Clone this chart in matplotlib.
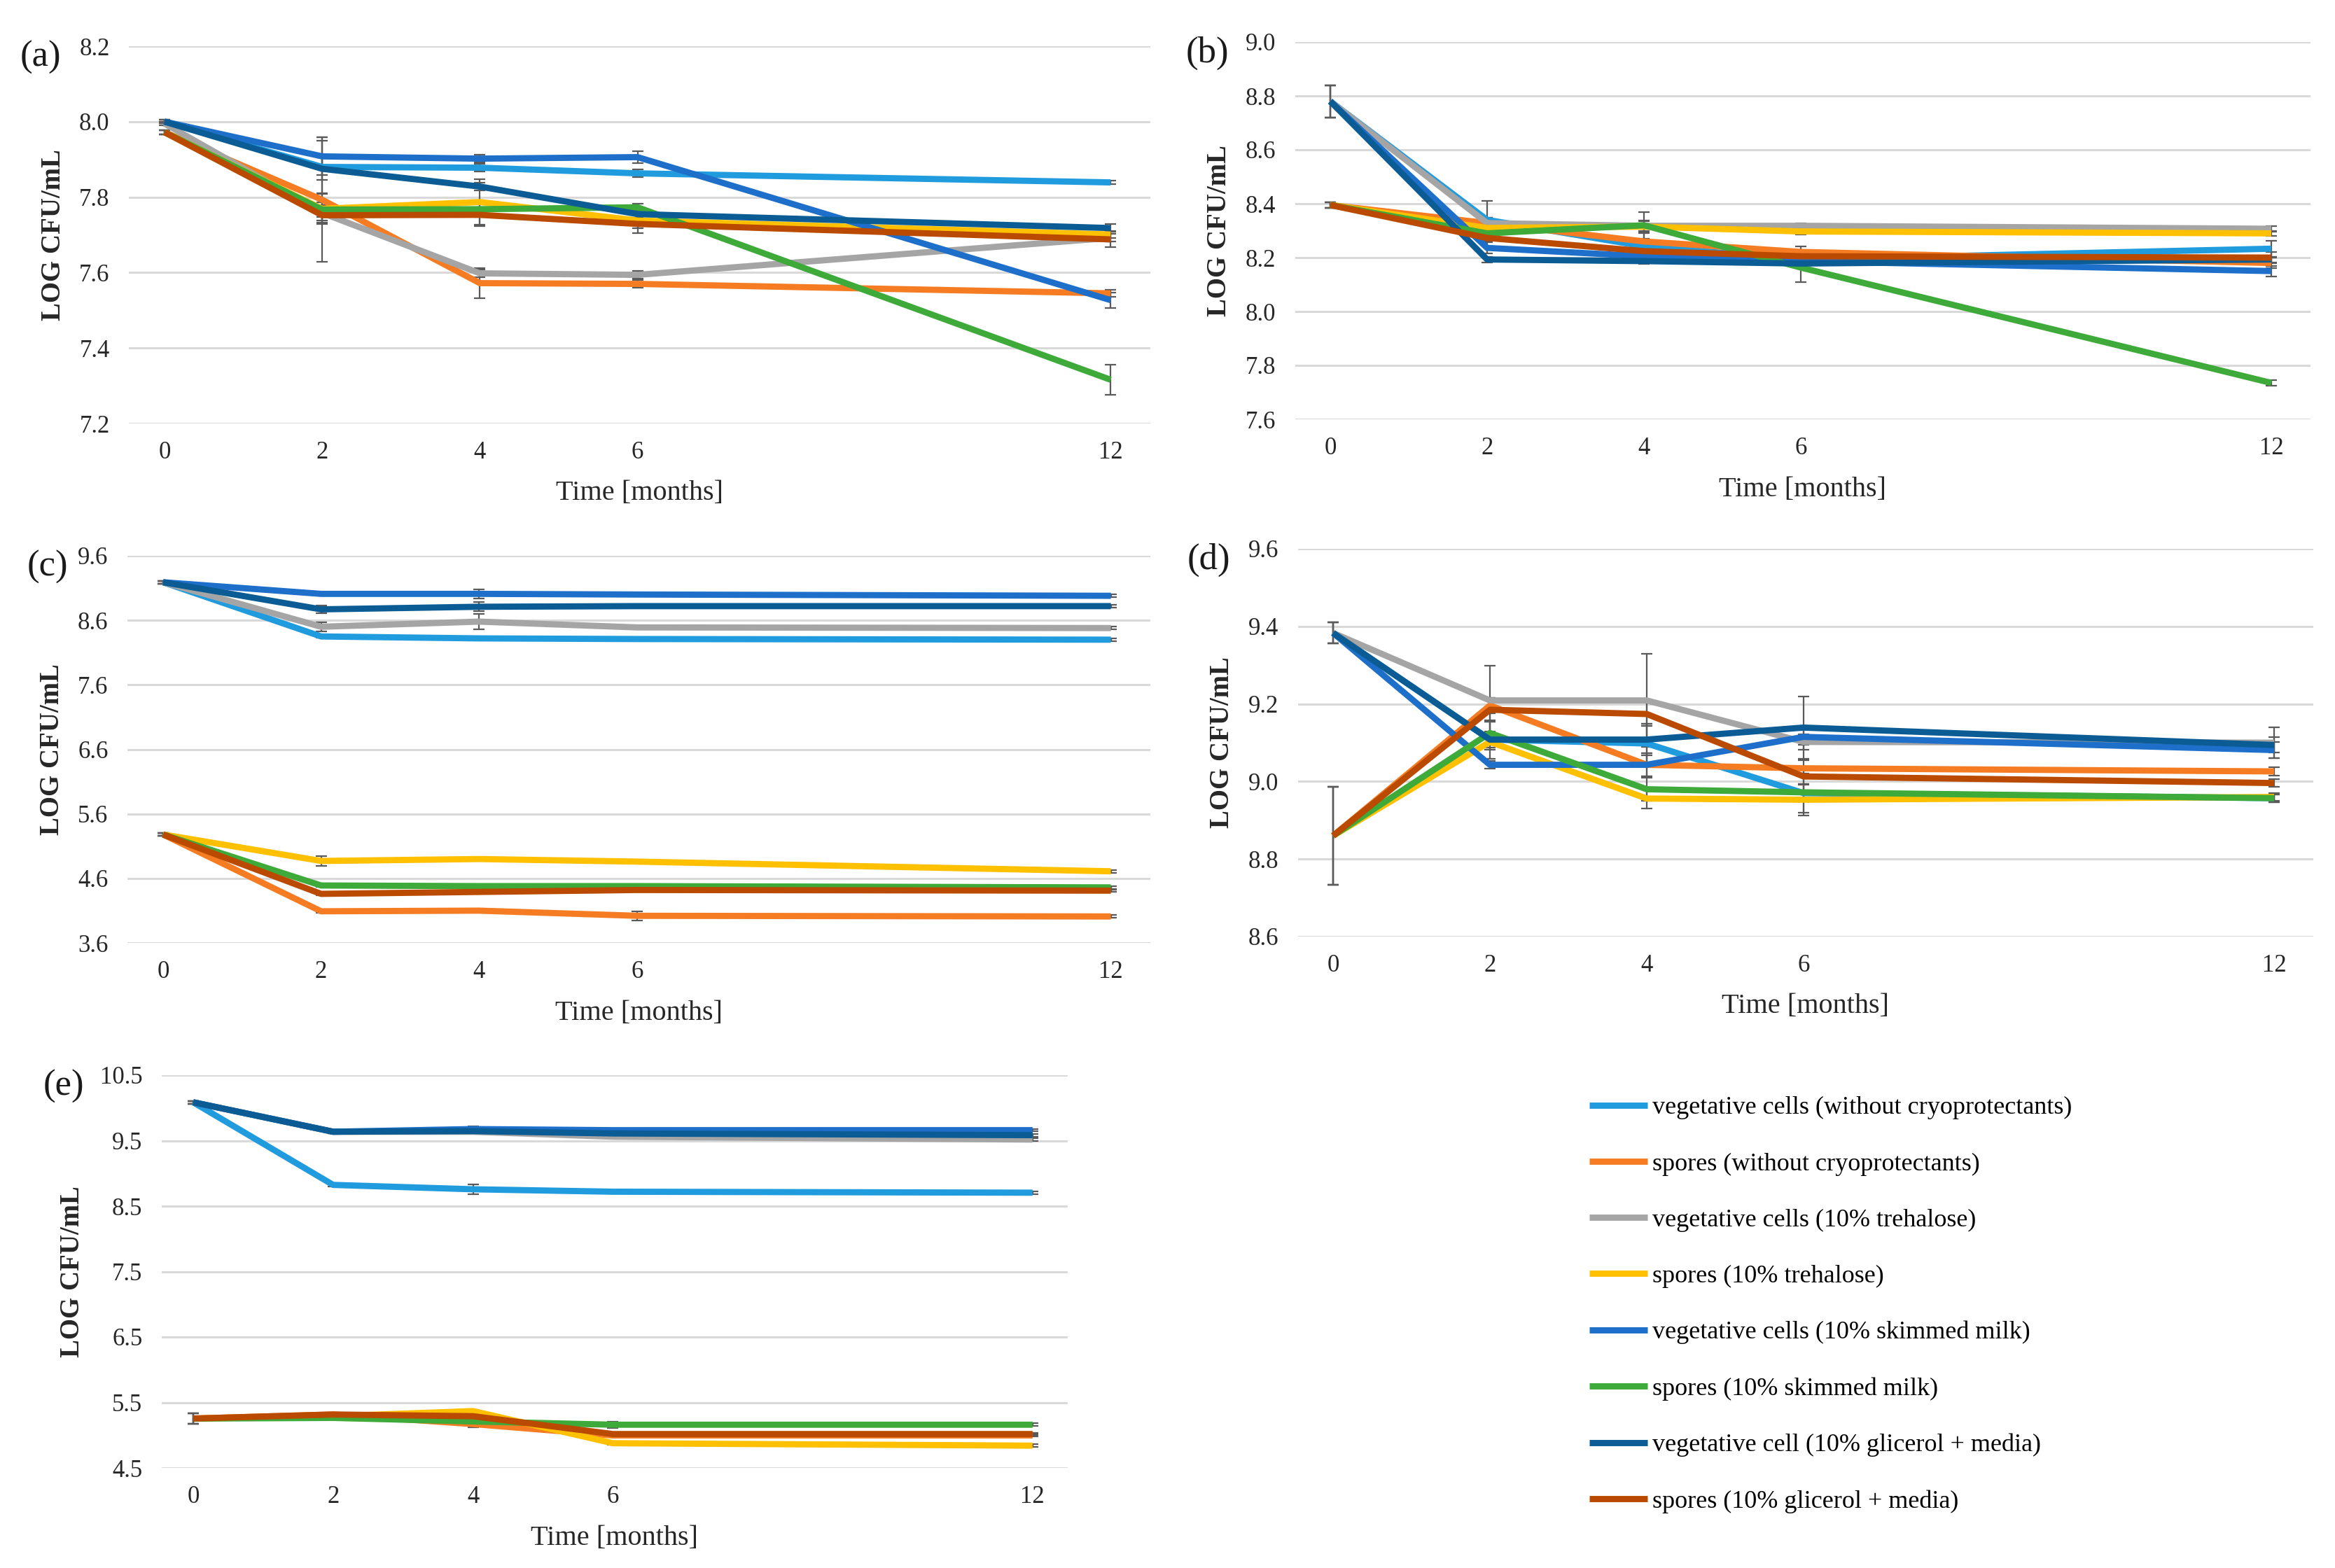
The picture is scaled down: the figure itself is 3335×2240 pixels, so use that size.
"""
Storage stability of vegetative cells and spores, panels (a)-(e)
"""

import matplotlib

matplotlib.use('Agg')
import matplotlib.pyplot as plt
from matplotlib.ticker import FormatStrFormatter

plt.rcParams['font.family'] = ['Liberation Serif', 'DejaVu Serif']

W, H = 3335, 2240
DPI = 200

MONTHS = [0, 2, 4, 6, 12]

LABELS = [
    'vegetative cells (without cryoprotectants)',
    'spores (without cryoprotectants)',
    'vegetative cells (10% trehalose)',
    'spores (10% trehalose)',
    'vegetative cells (10% skimmed milk)',
    'spores (10% skimmed milk)',
    'vegetative cell (10% glicerol + media)',
    'spores (10% glicerol + media)',
]
COLORS = ['#1F9BDE', '#F57C22', '#A5A5A5', '#FFC000',
          '#1E6FC9', '#3DAA3A', '#0B5C94', '#BA4A00']

# panel (a)
A_MEAN = [
    [8.000, 7.880, 7.878, 7.863, 7.839],
    [7.972, 7.793, 7.572, 7.570, 7.545],
    [7.995, 7.758, 7.598, 7.594, 7.692],
    [7.972, 7.769, 7.787, 7.738, 7.701],
    [8.000, 7.908, 7.902, 7.906, 7.527],
    [7.972, 7.767, 7.768, 7.773, 7.316],
    [8.000, 7.875, 7.828, 7.755, 7.718],
    [7.972, 7.752, 7.753, 7.729, 7.688],
]
A_ERR = [
    [0.005, 0.070, 0.010, 0.010, 0.005],
    [0.005, 0.165, 0.040, 0.010, 0.010],
    [0.005, 0.020, 0.010, 0.010, 0.010],
    [0.005, 0.040, 0.060, 0.020, 0.010],
    [0.005, 0.050, 0.010, 0.015, 0.020],
    [0.005, 0.020, 0.020, 0.010, 0.040],
    [0.005, 0.030, 0.010, 0.010, 0.010],
    [0.005, 0.020, 0.030, 0.025, 0.020],
]

# panel (b)
B_MEAN = [
    [8.780, 8.340, 8.242, 8.193, 8.233],
    [8.395, 8.328, 8.260, 8.221, 8.180],
    [8.780, 8.328, 8.318, 8.318, 8.307],
    [8.395, 8.310, 8.315, 8.297, 8.290],
    [8.780, 8.236, 8.205, 8.187, 8.150],
    [8.395, 8.290, 8.320, 8.163, 7.735],
    [8.780, 8.193, 8.187, 8.178, 8.193],
    [8.395, 8.273, 8.224, 8.205, 8.200],
]
B_ERR = [
    [0.060, 0.070, 0.020, 0.020, 0.030],
    [0.010, 0.020, 0.030, 0.020, 0.020],
    [0.060, 0.020, 0.020, 0.010, 0.010],
    [0.010, 0.020, 0.020, 0.010, 0.010],
    [0.060, 0.020, 0.020, 0.020, 0.020],
    [0.010, 0.020, 0.050, 0.055, 0.010],
    [0.060, 0.010, 0.010, 0.010, 0.010],
    [0.010, 0.010, 0.020, 0.020, 0.020],
]

# panel (c)
C_MEAN = [
    [9.19, 8.35, 8.32, 8.31, 8.30],
    [5.28, 4.09, 4.10, 4.02, 4.01],
    [9.19, 8.50, 8.58, 8.49, 8.48],
    [5.28, 4.87, 4.90, 4.86, 4.71],
    [9.19, 9.01, 9.01, 9.00, 8.98],
    [5.28, 4.49, 4.48, 4.48, 4.46],
    [9.19, 8.77, 8.81, 8.82, 8.82],
    [5.28, 4.36, 4.39, 4.42, 4.41],
]
C_ERR = [
    [0.02, 0.02, 0.02, 0.02, 0.02],
    [0.02, 0.02, 0.02, 0.07, 0.02],
    [0.02, 0.07, 0.12, 0.02, 0.02],
    [0.02, 0.08, 0.02, 0.02, 0.02],
    [0.02, 0.02, 0.07, 0.02, 0.02],
    [0.02, 0.02, 0.02, 0.02, 0.02],
    [0.02, 0.06, 0.07, 0.02, 0.02],
    [0.02, 0.02, 0.02, 0.02, 0.02],
]

# panel (d)
D_MEAN = [
    [9.383, 9.108, 9.098, 8.970, 8.957],
    [8.860, 9.196, 9.043, 9.034, 9.026],
    [9.383, 9.209, 9.209, 9.102, 9.100],
    [8.860, 9.102, 8.956, 8.953, 8.960],
    [9.383, 9.043, 9.043, 9.115, 9.081],
    [8.860, 9.125, 8.980, 8.972, 8.957],
    [9.383, 9.108, 9.108, 9.139, 9.094],
    [8.860, 9.185, 9.174, 9.013, 8.996],
]
D_ERR = [
    [0.027, 0.020, 0.050, 0.050, 0.010],
    [0.127, 0.020, 0.030, 0.020, 0.010],
    [0.027, 0.090, 0.120, 0.020, 0.040],
    [0.127, 0.020, 0.025, 0.040, 0.010],
    [0.027, 0.010, 0.030, 0.020, 0.020],
    [0.127, 0.030, 0.030, 0.020, 0.010],
    [0.027, 0.050, 0.040, 0.080, 0.020],
    [0.127, 0.030, 0.030, 0.020, 0.010],
]

# panel (e)
E_MEAN = [
    [10.086, 8.824, 8.757, 8.720, 8.705],
    [5.254, 5.316, 5.170, 4.996, 4.996],
    [10.086, 9.636, 9.636, 9.560, 9.517],
    [5.254, 5.290, 5.368, 4.877, 4.840],
    [10.086, 9.636, 9.677, 9.660, 9.660],
    [5.254, 5.264, 5.210, 5.160, 5.160],
    [10.086, 9.636, 9.646, 9.610, 9.584],
    [5.254, 5.316, 5.290, 5.017, 5.017],
]
E_ERR = [
    [0.02, 0.02, 0.07, 0.02, 0.02],
    [0.08, 0.02, 0.05, 0.02, 0.02],
    [0.02, 0.02, 0.02, 0.02, 0.02],
    [0.08, 0.02, 0.02, 0.02, 0.02],
    [0.02, 0.02, 0.04, 0.02, 0.02],
    [0.08, 0.02, 0.02, 0.05, 0.02],
    [0.02, 0.02, 0.02, 0.02, 0.02],
    [0.08, 0.02, 0.02, 0.02, 0.02],
]

XMIN, XMAX = -0.45, 12.5

# (tag, means, errors, y ticks, x0 px, px per month, top px, bottom px, label offset)
PANELS = [
    ('(a)', A_MEAN, A_ERR, [7.2, 7.4, 7.6, 7.8, 8.0, 8.2], 235, 112.6, 66, 605, 108),
    ('(b)', B_MEAN, B_ERR, [7.6, 7.8, 8.0, 8.2, 8.4, 8.6, 8.8, 9.0], 1900, 112.0, 60, 599, 108),
    ('(c)', C_MEAN, C_ERR, [3.6, 4.6, 5.6, 6.6, 7.6, 8.6, 9.6], 233, 112.8, 794, 1347, 108),
    ('(d)', D_MEAN, D_ERR, [8.6, 8.8, 9.0, 9.2, 9.4, 9.6], 1904, 112.0, 784, 1338, 108),
    ('(e)', E_MEAN, E_ERR, [4.5, 5.5, 6.5, 7.5, 8.5, 9.5, 10.5], 276, 99.9, 1536, 2097, 128),
]

fig = plt.figure(figsize=(W / DPI, H / DPI), dpi=DPI)

handles = []
for tag, means, errs, yticks, x0, u, top, bot, ylab_off in PANELS:
    left = x0 + XMIN * u
    right = x0 + XMAX * u
    ax = fig.add_axes([left / W, 1 - bot / H, (right - left) / W, (bot - top) / H])

    lines = []
    for mean, err, col in zip(means, errs, COLORS):
        ax.errorbar(MONTHS, mean, yerr=err, fmt='none', ecolor='#5A5A5A',
                    elinewidth=0.8, capsize=3, capthick=0.8, zorder=2)
        ln, = ax.plot(MONTHS, mean, color=col, lw=3.2, solid_capstyle='butt', zorder=3)
        lines.append(ln)
    if not handles:
        handles = lines

    ax.set_xlim(XMIN, XMAX)
    ax.set_ylim(yticks[0], yticks[-1])
    ax.set_xticks(MONTHS)
    ax.set_yticks(yticks)
    ax.yaxis.set_major_formatter(FormatStrFormatter('%.1f'))
    ax.grid(axis='y', color='#D9D9D9', lw=1.1)
    ax.set_axisbelow(True)
    for s in ax.spines.values():
        s.set_visible(False)
    ax.tick_params(length=0, labelsize=12.5, colors='#262626')
    ax.tick_params(axis='x', pad=9)
    ax.tick_params(axis='y', pad=10)

    fig.text((left + right) / 2 / W, 1 - (bot + 100) / H, 'Time [months]',
             ha='center', va='center', fontsize=14.5, color='#262626')
    fig.text((left - ylab_off) / W, 1 - (top + bot) / 2 / H, 'LOG CFU/mL',
             rotation=90, ha='center', va='center', fontsize=14,
             fontweight='bold', color='#262626')
    tag_off = {'(a)': 126, '(b)': 125, '(c)': 114, '(d)': 127, '(e)': 140}[tag]
    fig.text((left - tag_off) / W, 1 - (top + 16) / H, tag,
             ha='center', va='center', fontsize=19, color='#1A1A1A')

fig.legend(handles, LABELS, loc='upper left', bbox_to_anchor=(2270 / W, 1 - 1566 / H),
           frameon=False, fontsize=13, handlelength=2.3, handletextpad=0.2,
           labelspacing=1.3, borderaxespad=0, borderpad=0)

fig.savefig('out.png', dpi=DPI)
plt.close(fig)
